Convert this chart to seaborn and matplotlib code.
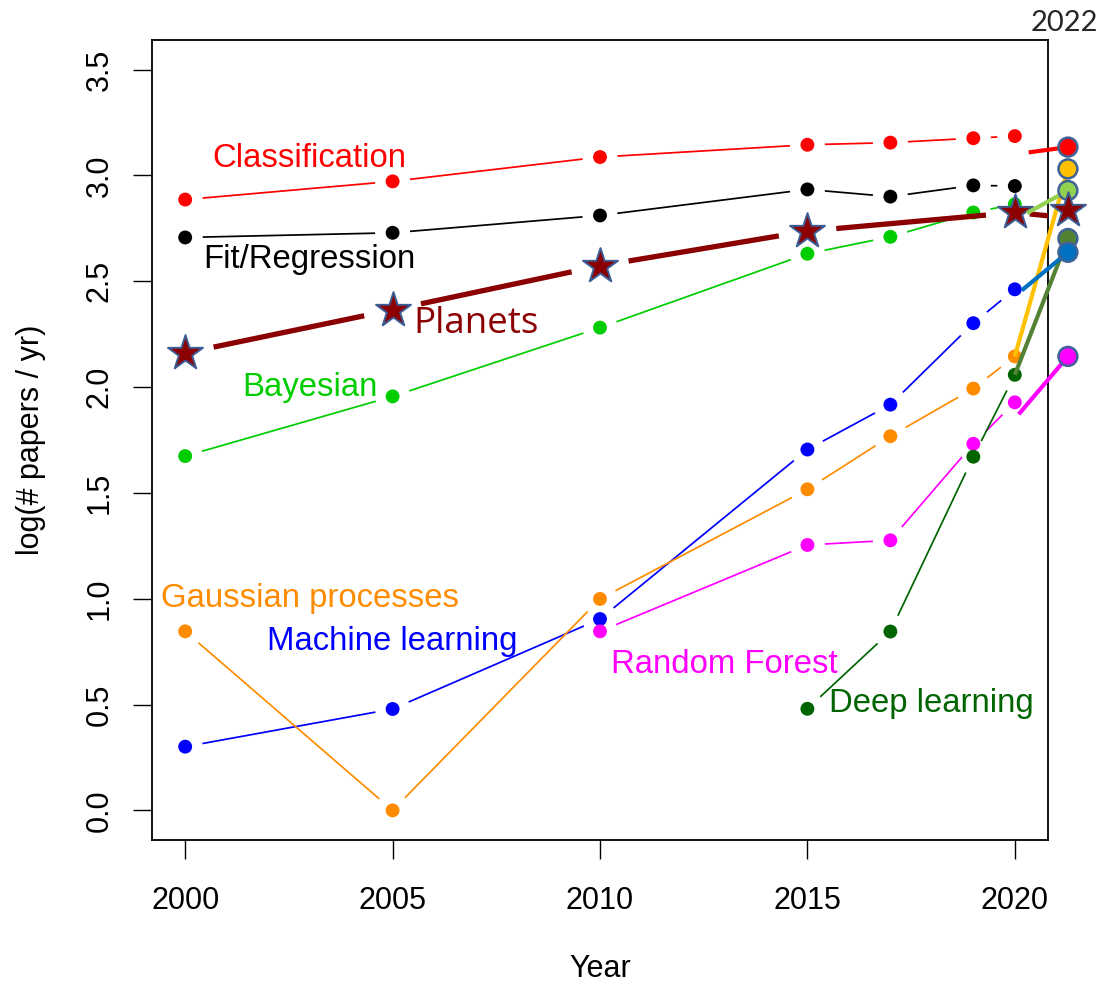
import numpy as np
import pandas as pd
import matplotlib
matplotlib.use("Agg")
import matplotlib.pyplot as plt
import seaborn as sns

# ---------------- data: log10(number of papers per year) ----------------
years = [2000, 2005, 2010, 2015, 2017, 2019, 2020]
classification = [2.886, 2.972, 3.087, 3.145, 3.155, 3.176, 3.186]
fit_regression = [2.707, 2.729, 2.811, 2.934, 2.900, 2.953, 2.950]
bayesian = [1.674, 1.956, 2.281, 2.630, 2.710, 2.825, 2.864]
machine_learning = [0.301, 0.479, 0.904, 1.705, 1.917, 2.302, 2.462]
gaussian_processes = [0.846, 0.000, 0.999, 1.517, 1.768, 1.993, 2.145]

years_rf = [2010, 2015, 2017, 2019, 2020]
random_forest = [0.846, 1.254, 1.276, 1.732, 1.928]

years_dl = [2015, 2017, 2019, 2020]
deep_learning = [0.480, 0.845, 1.671, 2.058]

years_planets = [2000, 2005, 2010, 2015, 2020]
planets = [2.161, 2.365, 2.573, 2.737, 2.825]
planets_tail_2022 = 2.80
planets_2022 = 2.839

# 2022 column: topic, value in 2022, value where its connector leaves 2020
topics_2022 = ["Classification", "Gaussian processes", "Bayesian",
               "Deep learning", "Machine learning", "Random Forest"]
values_2022 = [3.134, 3.031, 2.929, 2.702, 2.637, 2.145]
connector_2020 = [3.10, 2.145, 2.79, 2.058, 2.43, 1.85]

x_ticks = [2000, 2005, 2010, 2015, 2020]
y_ticks = [0.0, 0.5, 1.0, 1.5, 2.0, 2.5, 3.0, 3.5]

# ---------------- styling ----------------
sns.set_theme(style="ticks")
plt.rcParams["font.family"] = ["Liberation Sans", "DejaVu Sans"]
FS = 22
FS_LABEL = 23.7

series = [
    ("Classification", years, classification, "#FF0000"),
    ("Fit/Regression", years, fit_regression, "#000000"),
    ("Bayesian", years, bayesian, "#00CD00"),
    ("Machine learning", years, machine_learning, "#0000FF"),
    ("Gaussian processes", years, gaussian_processes, "#FF8C00"),
    ("Random Forest", years_rf, random_forest, "#FF00FF"),
    ("Deep learning", years_dl, deep_learning, "#006400"),
]
# text label placement (x centre, baseline y)
label_pos = {
    "Classification": (2003.0, 3.040),
    "Fit/Regression": (2003.0, 2.561),
    "Bayesian": (2003.0, 1.959),
    "Gaussian processes": (2003.0, 0.959),
    "Machine learning": (2005.0, 0.760),
    "Random Forest": (2013.0, 0.649),
    "Deep learning": (2018.0, 0.465),
}
colors_2022 = ["#FF0000", "#FFC000", "#92D050", "#548235", "#0070C0", "#FF00FF"]
connector_gap_px = [14, 0, 14, 0, 9, 6]
x_2022 = 2021.28          # horizontal slot of the 2022 column (outside the box)
planet_red = "#8B0000"
star_edge = "#3C5C94"
circle_edge = "#3F6396"

fig = plt.figure(figsize=(11.13, 9.84), dpi=100)
ax = fig.add_axes([152 / 1113, 1 - 840 / 984, 896 / 1113, 800 / 984])
XLIM = (1999.2, 2020.8)
YLIM = (-0.14, 3.64)
ax.set_xlim(*XLIM)
ax.set_ylim(*YLIM)


def gapped(xs, ys, gap_start, gap_end=None):
    """Segments between consecutive points, trimmed by a pixel gap at each end."""
    if gap_end is None:
        gap_end = gap_start
    pts = ax.transData.transform(np.column_stack([xs, ys]).astype(float))
    inv = ax.transData.inverted()
    rows = []
    for i in range(len(pts) - 1):
        p0, p1 = pts[i], pts[i + 1]
        d = p1 - p0
        length = np.hypot(*d)
        if length <= gap_start + gap_end + 1:
            continue
        u = d / length
        a = inv.transform(p0 + u * gap_start)
        b = inv.transform(p1 - u * gap_end)
        rows += [(a[0], a[1], i), (b[0], b[1], i)]
    return pd.DataFrame(rows, columns=["x", "y", "seg"])


def draw_segments(df, color, lw, z, clip=True):
    if df.empty:
        return
    sns.lineplot(data=df, x="x", y="y", units="seg", estimator=None, sort=False,
                 color=color, linewidth=lw, ax=ax, legend=False, zorder=z,
                 clip_on=clip, solid_capstyle="butt")


# topic series: points joined by gapped lines
for name, xs, ys, col in series:
    draw_segments(gapped(xs, ys, 17.5), col, 1.25, 2)
    sns.scatterplot(x=xs, y=ys, color=col, s=100, edgecolor="none", ax=ax,
                    zorder=3, legend=False)
    lx, ly = label_pos[name]
    ax.text(lx, ly, name, color=col, fontsize=FS_LABEL, ha="center",
            va="baseline", zorder=4)

# planets: thick dark-red line with star markers
draw_segments(gapped(years_planets, planets, 29), planet_red, 3.8, 4)
draw_segments(gapped([years_planets[-1], x_2022], [planets[-1], planets_tail_2022], 15, 0),
              planet_red, 3.8, 4)
sns.scatterplot(x=years_planets, y=planets, marker="*", s=700, color=planet_red,
                edgecolor=star_edge, linewidth=1.4, ax=ax, zorder=5, legend=False)
ax.text(2005.5, 2.255, "Planets", color=planet_red, fontsize=26.5,
        family=["Open Sans", "DejaVu Sans"], ha="left", va="baseline", zorder=4)

# 2022 column: connectors from 2020 and outlined circles
for v0, v1, col, gap in zip(connector_2020, values_2022, colors_2022, connector_gap_px):
    draw_segments(gapped([2020, x_2022], [v0, v1], gap, 0), col, 3.0, 6, clip=False)
sns.scatterplot(x=[x_2022] * len(values_2022), y=values_2022, hue=topics_2022,
                palette=colors_2022, s=185, edgecolor=circle_edge, linewidth=1.8,
                ax=ax, zorder=7, legend=False, clip_on=False)
sns.scatterplot(x=[x_2022], y=[planets_2022], marker="*", s=700, color=planet_red,
                edgecolor=star_edge, linewidth=1.4, ax=ax, zorder=8, legend=False,
                clip_on=False)
fig.text(1064 / 1113, 1 - 31 / 984, "2022", fontsize=21,
         family=["Lato", "DejaVu Sans"], ha="center", va="baseline")

# axes, ticks, labels
ax.set_xlim(*XLIM)
ax.set_ylim(*YLIM)
ax.set_xticks(x_ticks)
ax.set_xticklabels([str(t) for t in x_ticks])
ax.set_yticks(y_ticks)
ax.set_yticklabels([f"{t:.1f}" for t in y_ticks], rotation=90, va="center")
ax.tick_params(axis="both", direction="out", length=14, width=1.0,
               color="black", labelsize=FS, labelcolor="black")
ax.tick_params(axis="x", pad=19)
ax.tick_params(axis="y", pad=13)
for sp in ax.spines.values():
    sp.set_visible(True)
    sp.set_color("black")
    sp.set_linewidth(1.3)
ax.set_facecolor("white")
ax.grid(False)

ax.set_xlabel("Year", fontsize=FS, color="black")
ax.set_ylabel("log(# papers / yr)", fontsize=FS, color="black")
ax.xaxis.set_label_coords(0.5, -0.143)
ax.yaxis.set_label_coords(-0.118, 0.5)

fig.savefig("out.png", dpi=100, facecolor="white")
